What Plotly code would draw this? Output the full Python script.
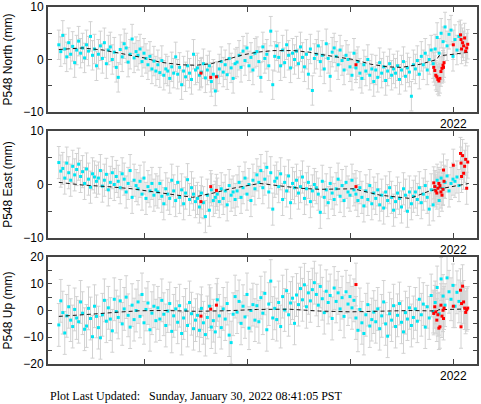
import numpy as np
import plotly.graph_objects as go

# ---------------- data (decimal years, mm) ----------------
t_start = 2018.17
n_week = 203
t_week = t_start + np.arange(n_week) / 52.0   # weekly solutions

north_vals = [
    2.8, 1.5, 4.6, 2.0, 0.5, 3.2, 1.0, 2.5, -0.6, 1.8,
    3.5, 1.2, 2.2, 0.3, 2.8, 1.6, 4.4, 0.8, 2.0, -1.2,
    1.0, 2.6, 0.2, 3.2, -0.8, 1.8, 2.4, 0.0, 1.4, -1.5,
    -3.4, 1.9, 0.5, 3.0, 2.2, -0.5, 1.0, 3.9, 0.3, 1.5,
    0.8, 2.0, -0.4, 1.2, 0.2, -1.0, 0.6, -1.8, -0.3, -2.2,
    -1.0, -2.5, -0.2, -3.0, -1.8, -2.2, -3.6, -1.4, -2.6, 0.5,
    -2.8, -1.5, -4.8, -2.2, -3.3, -1.2, -2.6, -3.8, 1.0, -2.0,
    -1.6, -3.0, -2.4, -0.8, -3.5, -2.0, -1.2, -4.2, -2.8, -6.0,
    -3.2, -1.8, -0.4, -2.4, -1.0, -2.9, 0.2, -1.6, -3.6, -0.8,
    -0.5, 0.8, -1.5, 1.6, -0.2, 2.2, -1.2, 0.4, -2.0, 1.2,
    1.5, -0.4, -3.4, 2.4, 0.2, 1.0, -1.2, 5.4, -4.8, 0.6,
    2.6, 0.4, -1.2, 1.8, -0.6, 2.8, 0.8, -1.6, 1.2, 0.0,
    1.6, -0.8, 2.4, 0.4, -1.4, 1.0, -2.8, 2.0, -5.9, 0.2,
    1.0, 2.6, -0.4, 0.8, -1.8, 3.0, 0.2, -3.2, 1.4, 2.2,
    0.6, -1.0, 1.8, -0.2, -2.0, 0.8, 0.0, -1.4, -3.0, 1.2,
    -1.6, -0.4, -2.6, -3.6, -1.0, -2.2, 0.0, -3.0, -1.8, -4.2,
    -2.0, -3.4, -0.6, -2.6, -1.4, -4.0, -2.2, -0.8, -3.0, -1.8,
    -2.6, -1.2, -3.8, -2.0, -0.4, -3.2, -1.6, -2.4, -7.0, -1.0,
    -1.8, -0.2, -2.8, 0.6, -1.0, 1.2, -2.0, 0.0, 1.8, -0.8,
    2.0, 4.2, 1.2, 5.0, 3.4, 6.2, 2.6, 4.8, 5.6, 0.6,
    3.8, 1.8, 4.4,
]

east_vals = [
    4.1, 2.5, 3.0, 1.2, 4.0, 2.2, 0.8, 3.4, 1.8, 2.8,
    3.8, 1.5, 2.4, 0.2, 2.9, 1.0, -0.5, 2.0, 1.4, 0.6,
    1.2, 2.6, -0.3, 0.8, 1.9, -1.0, 0.4, 2.2, 0.0, 1.5,
    0.6, -0.6, 2.0, 1.0, -1.4, 0.2, 2.6, -2.4, 0.8, -0.2,
    -0.8, 0.6, -1.8, 1.2, -2.6, -0.4, -1.2, 0.2, -2.0, -1.0,
    -1.4, 0.2, -2.2, -3.6, -0.8, -1.8, -2.6, 0.8, -1.2, -3.0,
    0.4, -2.4, -1.0, -3.6, -1.6, 0.9, -2.8, -0.6, -1.8, -3.2,
    -2.6, -4.2, -1.6, -3.4, -6.0, -2.0, -4.8, -1.0, -3.0, -2.4,
    -1.8, -3.2, -0.8, -2.6, -1.2, -3.8, -0.2, -2.0, -1.4, -2.8,
    -1.2, 0.4, -2.4, -0.6, 1.2, -1.8, 0.0, -3.0, 0.8, -0.8,
    1.8, 0.4, 2.6, -0.6, 1.0, 3.2, -1.4, 2.2, -4.6, 0.6,
    1.2, -0.4, 2.0, -2.8, 0.4, -1.2, 1.6, -3.4, 0.2, -0.6,
    0.8, -1.6, -0.4, 1.4, -2.6, -0.8, 0.4, -3.2, -1.2, 0.0,
    -0.6, -1.8, -5.2, 0.6, -2.4, -1.0, -3.4, 0.2, -1.6, -2.8,
    -0.8, 1.0, -2.2, -0.2, -3.0, 0.4, -1.4, -2.0, 0.8, -1.0,
    -1.8, -3.0, -0.6, -2.4, -4.0, -1.2, -2.8, -0.2, -3.6, -1.6,
    -2.6, -1.0, -3.8, -2.0, -4.4, -1.4, -3.0, -0.6, -2.4, -4.8,
    -3.2, -1.6, -2.6, -4.2, -0.8, -2.0, -5.0, -1.4, -3.6, -2.2,
    -1.4, -2.8, -0.6, -3.4, -1.8, -0.2, -2.4, -4.6, -1.0, -3.8,
    -0.4, 0.8, -3.0, 1.2, -0.8, 0.4, 1.6, -1.2, 0.2, 1.0,
    0.6, 1.4, -0.2,
]

up_vals = [
    -5.4, 3.6, -0.8, -8.4, -2.0, 1.4, -3.6, -6.0, 0.4, -2.8,
    -4.2, 3.2, -1.0, -7.0, -5.8, 0.8, -3.0, -9.8, 1.6, -2.2,
    -6.4, -10.2, -1.6, 3.8, -4.0, 1.0, -3.2, -7.6, 4.2, -0.4,
    -2.6, 3.6, -5.0, 0.6, 5.0, -1.8, -6.2, 2.0, -3.4, 0.0,
    3.2, -2.2, 6.0, -4.6, 0.4, 2.8, -7.2, -1.0, 1.6, -3.8,
    1.0, -3.2, 3.8, -1.4, -5.6, -0.2, 2.6, -7.8, -2.0, 0.6,
    -4.4, 1.8, -8.6, -2.8, 0.2, -5.6, 3.0, -1.2, -6.8, -3.6,
    -1.8, -7.4, 0.8, -4.6, -9.0, -2.6, 1.6, -6.2, -3.8, -8.0,
    4.0, -2.0, -6.4, 0.6, -3.2, 2.6, -9.2, -12.0, -1.4, 5.2,
    -0.6, 3.4, -4.8, 1.6, -2.4, 6.0, -6.6, 0.0, 2.2, -3.6,
    1.8, -4.2, 4.8, -1.0, 6.4, -7.2, 2.4, 11.0, -2.8, 0.8,
    -3.4, 3.0, -6.0, 5.2, 0.2, 7.4, -1.6, 2.8, 4.6, -4.8,
    5.8, 2.2, 8.2, 4.0, 9.6, 1.4, 6.6, 3.6, 7.8, 10.4,
    6.0, 2.0, 9.0, 4.4, -0.8, 7.2, 3.0, 5.6, -3.0, 8.4,
    3.4, 6.6, 0.6, 4.8, -2.2, 7.0, 2.4, 5.2, 1.0, 3.8,
    -2.8, -7.4, 0.4, -4.6, -8.6, -1.6, 2.2, -5.8, -3.4, -0.6,
    -4.2, 0.6, -6.8, -2.0, 3.2, -5.0, -9.6, -1.2, -3.6, 1.8,
    -6.0, -1.8, 2.6, -4.4, -8.0, -0.8, -3.2, 1.0, -5.6, -2.6,
    0.6, -4.0, 4.2, -1.6, 2.4, -6.2, 1.4, -2.8, 5.6, -0.4,
    3.0, 8.6, -1.2, 11.8, 5.4, 2.0, 12.2, 7.0, 4.2, 9.4,
    1.6, 6.8, 3.4,
]

# rapid (red) solutions
red_t = [2019.55, 2019.645, 2019.70, 2021.055,
         2021.81, 2021.82, 2021.83, 2021.84, 2021.85, 2021.86, 2021.87,
         2021.88, 2021.89, 2021.90, 2021.905, 2021.91, 2022.0, 2022.07,
         2022.075, 2022.08, 2022.09, 2022.10, 2022.11, 2022.12, 2022.13, 2022.14]
north_red = [-2.6, -3.4, -3.3, -1.0,
             -1.5, -2.1, -3.0, -3.3, -3.8, -4.1, -3.6, -2.3, -1.7, -1.1, -1.5, -0.6,
             2.8, 4.7, 3.8, 2.0, 3.2, 2.6, 4.1, 1.6, 2.2, 2.9]
east_red = [-3.2, -0.4, -1.1, -0.4,
            0.3, -0.4, -1.2, -1.6, -0.7, 0.2, -0.2, -1.4, -2.0, -0.9, 2.7, 0.6,
            3.6, 5.8, 4.0, 1.5, 5.4, 2.1, 3.4, 4.7, -0.7, 4.2]
up_red = [-2.1, 0.5, 2.0, 9.7,
          -1.1, 1.4, -0.5, -3.6, -1.6, -6.6, -6.1, 2.0, -2.1, 0.1, -3.0, 0.9,
          1.6, 7.6, -6.1, 2.6, 9.1, 3.2, 0.9, -0.7, 0.3, 0.9]

# model curves
north_model_t = [2018.17, 2018.4, 2018.6, 2018.8, 2019.0, 2019.15, 2019.35, 2019.5, 2019.65,
                 2019.8, 2019.96, 2020.1, 2020.25, 2020.45, 2020.6, 2020.7, 2020.85, 2021.03,
                 2021.2, 2021.36, 2021.5, 2021.68, 2021.84, 2021.86, 2022.0, 2022.15]
north_model = [1.9, 2.2, 1.8, 1.1, 0.3, -0.5, -1.0, -1.1, -0.8,
               0.0, 0.9, 1.4, 1.7, 1.7, 1.4, 1.0, 0.5, 0.0,
               -0.9, -1.4, -1.5, -0.9, 0.0, 0.7, 1.0, 1.4]
east_model_t = [2018.17, 2018.4, 2018.65, 2018.88, 2019.1, 2019.25, 2019.47, 2019.67, 2019.86,
                2020.12, 2020.29, 2020.51, 2020.7, 2021.03, 2021.29, 2021.58, 2021.77, 2021.84,
                2021.86, 2021.9, 2022.07, 2022.15]
east_model = [0.4, -0.1, -0.4, -0.8, -1.4, -1.8, -2.4, -1.6, -0.7,
              0.2, -0.2, -0.7, -0.9, -0.8, -2.0, -2.6, -1.2, -0.9,
              -0.6, -0.7, -0.1, 0.2]
up_model_t = [2018.17, 2018.35, 2018.55, 2018.75, 2018.95, 2019.2, 2019.5, 2019.8, 2020.1,
              2020.4, 2020.7, 2021.0, 2021.3, 2021.6, 2021.84, 2021.86, 2022.15]
up_model = [-2.2, -1.8, -1.2, -0.6, -0.1, 0.0, -0.3, -0.1, 0.4,
            0.5, -0.2, -0.5, -0.3, 0.0, -0.2, 0.3, 0.6]

north_err, east_err, up_err = 2.8, 3.0, 8.0

panels = [
    ("P548 North (mm)", north_vals, north_red, north_model_t, north_model, north_err, [-10, 10]),
    ("P548 East (mm)", east_vals, east_red, east_model_t, east_model, east_err, [-10, 10]),
    ("P548 Up (mm)", up_vals, up_red, up_model_t, up_model, up_err, [-20, 20]),
]

# ---------------- figure ----------------
W, H = 481, 404
ML, MR, MT, MB = 48, 4, 7, 40
ph = H - MT - MB
def py(pix):
    return (H - MB - pix) / ph

domains = [(py(112), py(7)), (py(238), py(131)), (py(364), py(257))]

FRAME = "#444444"
CYAN = "#00e5f2"
RED = "#ff0000"
ERRC = "#d2d2d2"
SANS = "Liberation Sans, Arial, sans-serif"

fig = go.Figure()
for k, (title, vals, red, mt, mv, err, yr) in enumerate(panels):
    xa = "x" if k == 0 else f"x{k+1}"
    ya = "y" if k == 0 else f"y{k+1}"
    all_t = np.concatenate([t_week, np.array(red_t)])
    all_v = np.concatenate([np.array(vals), np.array(red)])
    # error bars (behind markers)
    fig.add_trace(go.Scatter(
        x=all_t, y=all_v, mode="markers", xaxis=xa, yaxis=ya,
        marker=dict(size=1, color="rgba(0,0,0,0)"),
        error_y=dict(type="constant", value=err, color=ERRC, thickness=1, width=2),
        showlegend=False, hoverinfo="skip"))
    fig.add_trace(go.Scatter(
        x=t_week, y=vals, mode="markers", xaxis=xa, yaxis=ya,
        marker=dict(symbol="square", size=3, color=CYAN, line=dict(width=0)),
        showlegend=False))
    fig.add_trace(go.Scatter(
        x=mt, y=mv, mode="lines", xaxis=xa, yaxis=ya,
        line=dict(color="#1a1a1a", width=1, dash="4px,3px"),
        showlegend=False))
    fig.add_trace(go.Scatter(
        x=red_t, y=red, mode="markers", xaxis=xa, yaxis=ya,
        marker=dict(symbol="square", size=3, color=RED, line=dict(width=0)),
        showlegend=False))

    xkey = "xaxis" if k == 0 else f"xaxis{k+1}"
    ykey = "yaxis" if k == 0 else f"yaxis{k+1}"
    fig.layout[xkey] = dict(
        domain=[0, 1], anchor=ya, range=[2018.065, 2022.23],
        tickvals=[2019, 2020, 2021, 2022], ticktext=["", "", "", "2022"],
        ticks="inside", ticklen=5, tickwidth=1, tickcolor=FRAME,
        showline=True, linecolor=FRAME, linewidth=2, mirror="ticks",
        showgrid=False, zeroline=False, ticklabeloverflow="allow",
        tickfont=dict(family=SANS, size=12, color="black"))
    step = 10
    fig.layout[ykey] = dict(
        domain=list(domains[k]), anchor=xa, range=yr,
        tick0=0, dtick=step, ticks="inside", ticklen=4, tickwidth=1, tickcolor=FRAME,
        minor=dict(dtick=step / 2, ticks="inside", ticklen=4, tickwidth=1, tickcolor=FRAME),
        showline=True, linecolor=FRAME, linewidth=2, mirror="ticks",
        showgrid=False, zeroline=False, ticklabeloverflow="allow",
        tickfont=dict(family=SANS, size=12, color="black"),
        title=dict(text=title, font=dict(family=SANS, size=12, color="black"), standoff=8))

fig.add_annotation(
    text="Plot Last Updated:\u00a0\u00a0\u00a0Sunday, January 30, 2022 08:41:05 PST",
    xref="paper", yref="paper", x=0, y=py(396), xanchor="left", yanchor="middle",
    showarrow=False, font=dict(family="Liberation Serif, Times New Roman, serif", size=12, color="black"))

fig.update_layout(
    width=W, height=H, margin=dict(l=ML, r=MR, t=MT, b=MB, autoexpand=False),
    paper_bgcolor="white", plot_bgcolor="white", showlegend=False, hovermode=False)

fig.write_html(
    "out.html",
    config={"displayModeBar": False, "staticPlot": True},
    post_script="document.body.style.margin='0';document.body.style.padding='0';"
                "document.documentElement.style.overflow='hidden';")
